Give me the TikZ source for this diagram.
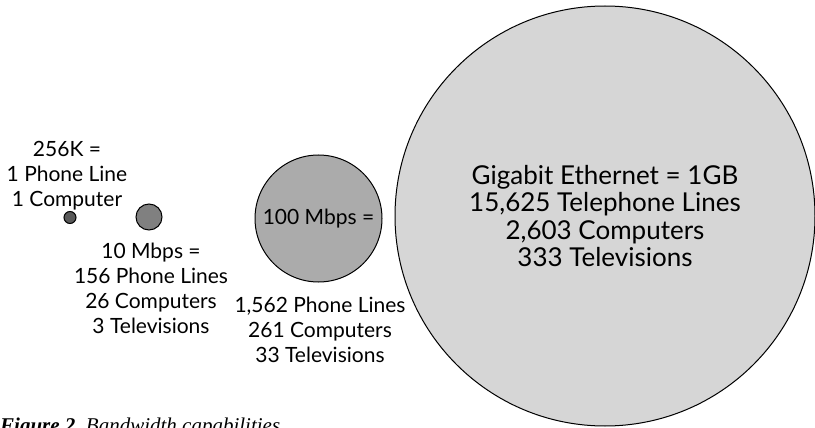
\documentclass[tikz,border=0pt]{standalone}
\usepackage{fontspec}
\setmainfont{Lato}
\newfontfamily\captionfont{Liberation Serif}
\usepackage{xcolor}
\usetikzlibrary{positioning}

% fills of the four rate bubbles, darkest = slowest
\definecolor{rateslow}{gray}{0.35}
\definecolor{ratemid}{gray}{0.50}
\definecolor{ratefast}{gray}{0.67}
\definecolor{rategig}{gray}{0.84}

\tikzset{
  rate/.style={circle, draw=black, line width=1pt, inner sep=0pt, align=center},
  figures/.style={align=center, inner sep=0pt, font=\fontsize{21}{25}\selectfont},
  gigfigures/.style={font=\fontsize{26}{27.5}\selectfont},
}

\begin{document}
\begin{tikzpicture}[x=1pt,y=-1pt]
  \useasboundingbox (0,0) rectangle (815,428);

  % bubbles
  \node[rate, fill=rateslow, minimum size=12pt] (k256) at (70,217.5) {};
  \node[rate, fill=ratemid, minimum size=26pt] (mb10) at (149,217) {};
  \node[rate, fill=ratefast, minimum size=127pt, font=\fontsize{21}{25}\selectfont] (mb100) at (318.5,218.5) {100 Mbps =};
  \node[rate, fill=rategig, minimum size=420pt, gigfigures] (gig) at (605,216)
    {Gigabit Ethernet = 1GB\\15,625 Telephone Lines\\2,603 Computers\\333 Televisions};

  % what each rate carries
  \node[figures, anchor=north] (k256txt) at (67,141) {256K =\\1 Phone Line\\1 Computer};
  \node[figures, anchor=north] (mb10txt) at (151,243) {10 Mbps =\\156 Phone Lines\\26 Computers\\3 Televisions};
  \node[figures, anchor=north] (mb100txt) at (320,297) {1,562 Phone Lines\\261 Computers\\33 Televisions};

  % caption, runs off the bottom edge
  \node[anchor=base west, inner sep=0pt, font=\captionfont\fontsize{21}{24}\selectfont] (cap) at (0,432)
    {\bfseries\itshape Figure 2.\ \mdseries\itshape Bandwidth capabilities};
\end{tikzpicture}
\end{document}
